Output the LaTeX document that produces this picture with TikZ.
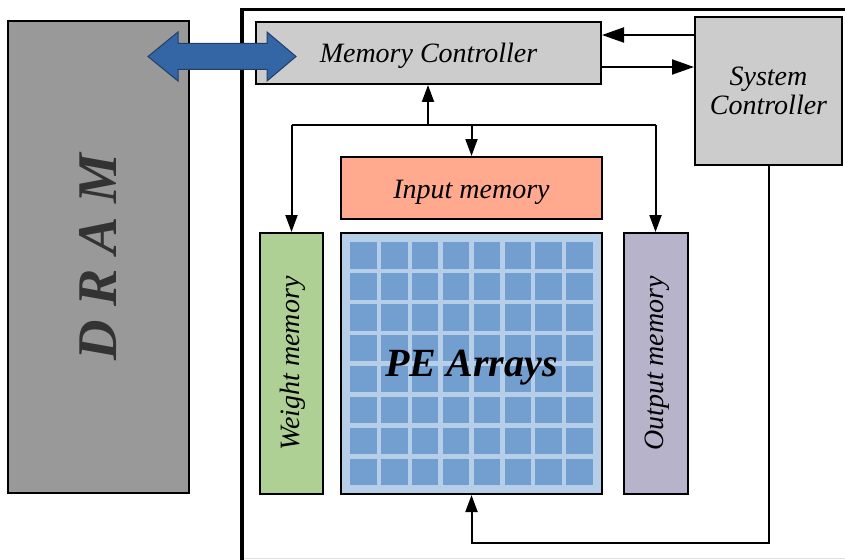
\documentclass[tikz,border=0pt]{standalone}
\usepackage{fontspec}
\usepackage{graphicx}
\setmainfont{Liberation Serif}
\usetikzlibrary{arrows.meta}
\definecolor{dramgray}{HTML}{999999}
\definecolor{mcgray}{HTML}{CCCCCC}
\definecolor{inred}{HTML}{FFA98F}
\definecolor{wgreen}{HTML}{AFD095}
\definecolor{opurple}{HTML}{B7B3CA}
\definecolor{pebg}{HTML}{B7CEE8}
\definecolor{cellblue}{HTML}{729FCF}
\definecolor{arrowblue}{HTML}{3465A4}
\definecolor{arrowedge}{HTML}{1F3F66}
\definecolor{dramtext}{HTML}{333333}
\tikzset{
  blk/.style={draw=black, line width=2pt, inner sep=0pt, anchor=center,
    font=\fontsize{28}{31}\selectfont\itshape, align=center},
  conn/.style={line width=2pt, -{Triangle[length=17pt,width=12pt]}},
  connh/.style={line width=2pt, -{Triangle[length=22pt,width=15pt]}},
  plainline/.style={line width=2pt},
}
\begin{document}
\begin{tikzpicture}[x=1pt,y=-1pt]
\useasboundingbox (0,0) rectangle (845,559);
\clip (0,0) rectangle (845,559);
% outer chip boundary
\draw[line width=3.5pt] (242,600) -- (242,9.5) -- (900,9.5);
\draw[line width=1pt, black!12] (244,558.5) -- (845,558.5);
% DRAM
\node[blk, fill=dramgray, minimum width=181pt, minimum height=472pt, line width=1.6pt]
  (dram) at (98.5,257) {\textcolor{dramtext}{\rotatebox{90}{\fontsize{56}{60}\selectfont\bfseries\itshape D R A M}}};
% blocks
\node[blk, fill=mcgray, minimum width=345pt, minimum height=62pt] (mc) at (428.5,53) {\raisebox{-10pt}[0pt][0pt]{Memory Controller}};
\node[blk, fill=mcgray, minimum width=147pt, minimum height=148pt] (sc) at (768.5,91) {\raisebox{-2pt}{\shortstack{System\\[1pt]Controller}}};
\node[blk, fill=inred, minimum width=261pt, minimum height=62pt] (im) at (471.5,188) {\raisebox{-10pt}[0pt][0pt]{Input memory}};
\node[blk, fill=wgreen, minimum width=63pt, minimum height=261pt] (wm) at (291.5,363.5) {\hspace*{3pt}\rotatebox{90}{Weight memory}};
\node[blk, fill=opurple, minimum width=64pt, minimum height=261pt] (om) at (655.5,363.5) {\hspace*{3pt}\rotatebox{90}{Output memory}};
\node[blk, fill=pebg, minimum width=261pt, minimum height=261pt,
  font=\fontsize{40}{44}\selectfont\bfseries\itshape,
  path picture={
    \foreach \i in {0,...,7}{
      \foreach \j in {0,...,7}{
        \fill[cellblue] ([xshift={(9+\i*30.9)*1pt}, yshift={-(9+\j*30.95)*1pt}]path picture bounding box.north west)
          rectangle ++(26.6pt,-26.6pt);
      }
    }
  }] (pe) at (471.5,363.5) {\raisebox{-13pt}[0pt][0pt]{PE Arrays}};
% distribution bus from memory controller
\coordinate (busL) at (291.5,125);
\coordinate (busM) at (428,125);
\coordinate (busR) at (655.5,125);
\draw[plainline] (busL) -- (busR);
\draw[conn] (busM) -- (busM |- mc.south);
\draw[conn] (busL) -- (wm.north);
\draw[conn] (im.north |- busL) -- (im.north);
\draw[conn] (busR) -- (om.north);
% system controller links
\coordinate (scA) at (695,35);
\coordinate (scB) at (601,67);
\draw[connh] (scA) -- (mc.east |- scA);
\draw[connh] (scB) -- (sc.west |- scB);
\coordinate (scbot) at (768.5,543);
\draw[conn] (sc.south) -- (scbot) -| (pe.south);
% DRAM <-> memory controller double arrow
\draw[fill=arrowblue, draw=arrowedge, line width=1pt, line join=miter]
  (148,56.5) -- (178,32) -- (178,43.5) -- (267,43.5) -- (267,32) -- (296,56.5)
  -- (267,81) -- (267,69.5) -- (178,69.5) -- (178,81) -- cycle;
\end{tikzpicture}
\end{document}
